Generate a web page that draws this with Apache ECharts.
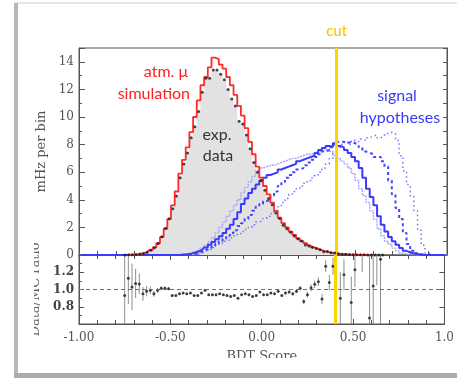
<!DOCTYPE html>
<html><head><meta charset="utf-8">
<script src="https://cdn.jsdelivr.net/npm/echarts@6/dist/echarts.min.js"></script>
<style>html,body{margin:0;padding:0;background:#fff;}#c{width:457px;height:378px;}</style>
</head><body><div id="c"></div>
<script>
// ---- binning ----
const binWidth = 0.02;
const firstBinCenter = -0.99;
const nBins = 100;

// ---- axis tick labels ----
const xTickLabels = ['-1.00', '-0.50', '0.00', '0.50', '1.0'];
const ratioTickLabels = ['0.6', '0.8', '1.0', '1.2', '1.4'];

// ---- atm. mu simulation (MC), mHz per bin, bins starting at center -0.73 ----
const mcStart = -0.73;
const mcValues = [0.01,0.02,0.03,0.06,0.12,0.2,0.35,0.55,0.85,1.3,1.9,2.6,3.6,4.6,5.9,6.9,7.8,8.9,10.0,11.2,12.3,12.9,13.6,14.3,14.2,13.8,13.5,12.9,12.3,11.6,10.8,10.1,9.2,8.2,7.3,6.4,5.6,5.0,4.4,3.8,3.2,2.7,2.3,2.0,1.7,1.45,1.2,1.0,0.85,0.7,0.55,0.45,0.35,0.27,0.2,0.15,0.11,0.08,0.06,0.04,0.03,0.02,0.015,0.01,0.01,0.005,0.005];

// ---- experimental data, bins starting at center -0.75 ----
const expStart = -0.75;
const expValues = [0.005,0.011,0.02,0.03,0.065,0.115,0.2,0.35,0.52,0.84,1.32,1.93,2.63,3.35,4.28,5.6,6.6,7.4,8.5,9.3,10.4,11.8,12.8,12.8,13.4,13.4,13.1,12.7,12.0,11.3,10.8,9.7,9.5,8.7,7.7,6.7,6.0,5.4,4.7,4.1,3.65,3.05,2.65,2.15,1.9,1.65,1.38,1.18,1.02,0.73,0.66,0.56,0.48,0.38,0.24,0.25,0.16,0.14,0.09,0.054,0.047,0.03,0.017,0.018,0.01,0.016,0.005,0.003,0.005,0.004,0.004];

// ---- Data/MC ratio and its error, bins starting at center -0.75 ----
const ratioStart = -0.75;
const ratioValues = [0.93,1.13,1.03,1.07,1.065,0.95,0.98,0.99,0.95,0.99,1.015,1.015,1.01,
  0.93,0.93,0.95,0.96,0.95,0.96,0.93,0.93,0.96,0.99,0.94,0.94,0.94,0.95,0.94,0.93,0.92,0.93,0.90,0.94,0.95,0.94,0.92,0.93,0.97,
  0.94,0.94,0.96,0.95,0.98,0.93,0.96,0.97,0.95,0.98,
  1.015,0.86,0.94,1.02,1.06,1.09,0.89,1.27,1.08,1.27,
  null,0.90,1.17,null,0.85,1.23,null,1.6,null,0.67,1.04,1.5,1.35];
const ratioErrors = [0.6,0.3,0.27,0.17,0.12,0.08,0.06,0.045,0.035,0.03,0.025,0.02,0.018,
  0.015,0.013,0.012,0.011,0.01,0.01,0.01,0.01,0.01,0.01,0.01,0.01,0.01,0.01,0.01,0.01,0.01,0.01,0.01,0.01,0.01,0.01,0.01,0.01,0.01,
  0.01,0.011,0.012,0.013,0.014,0.015,0.017,0.019,0.02,0.022,
  0.025,0.03,0.035,0.04,0.045,0.05,0.06,0.07,0.09,0.1,
  0,0.3,0.18,0,0.3,0.2,0,0.4,0,0.8,0.6,0.45,0.9];

// ---- signal hypotheses ----
const sigSolidStart = -0.43;
const sigSolid = [0.03,0.06,0.1,0.16,0.25,0.38,0.55,0.75,0.95,1.15,1.35,1.6,1.9,2.2,2.6,3.1,3.7,4.1,4.5,4.8,5.1,5.4,5.6,5.8,5.9,6.0,6.2,6.3,6.4,6.5,6.6,6.8,6.9,7.0,7.1,7.2,7.4,7.6,7.75,7.9,7.85,8.1,7.9,7.8,7.6,7.4,7.1,6.8,6.3,5.6,4.8,4.2,3.6,2.8,2.2,1.7,1.3,1.0,0.75,0.5,0.3,0.2,0.12,0.07,0.03];
const sigLightStart = -0.45;
const sigLight = [0.03,0.06,0.1,0.16,0.25,0.35,0.5,0.7,0.95,1.25,1.6,2.0,2.4,2.8,3.2,3.6,4.0,4.5,4.9,5.3,5.7,6.1,6.3,6.4,6.5,6.5,6.6,6.7,6.8,6.9,7.0,7.0,7.1,7.2,7.3,7.3,7.4,7.5,7.5,7.6,7.7,7.5,7.2,7.0,6.8,6.6,6.3,5.9,5.4,4.8,4.3,3.8,3.2,2.6,1.9,1.4,1.0,0.8,0.5,0.3,0.15,0.07,0.03];
const sigDashStart = -0.37;
const sigDash = [0.05,0.15,0.25,0.4,0.5,0.65,0.8,1.0,1.2,1.4,1.6,1.8,2.1,2.3,2.6,2.9,3.2,3.5,3.7,3.9,4.0,4.3,4.6,5.0,5.3,5.6,5.8,6.0,6.2,6.3,6.5,6.7,6.9,7.1,7.3,7.5,7.6,7.8,8.0,8.2,8.2,8.1,8.2,8.1,8.0,7.8,7.5,7.4,7.3,7.1,7.1,6.8,6.4,5.4,4.4,3.4,2.6,1.6,0.8,0.3,0.12,0.05];
const sigDotStart = -0.35;
const sigDot = [0.05,0.15,0.25,0.4,0.55,0.7,0.85,1.0,1.1,1.25,1.4,1.55,1.7,1.85,2.0,2.2,2.4,2.5,2.65,2.8,3.0,3.2,3.5,3.8,4.1,4.4,4.6,4.8,5.0,5.2,5.4,5.6,5.8,6.0,6.3,6.6,7.0,7.4,7.7,8.0,8.2,8.0,8.3,8.2,8.4,8.3,8.5,8.6,8.7,8.5,8.6,8.8,8.9,8.8,8.3,7.2,6.1,5.1,4.3,3.2,1.8,0.7,0.15,0.03];

const cutValue = 0.40;

// ---- helpers (build point lists from the arrays) ----
function center(i) { return +(firstBinCenter + i * binWidth).toFixed(3); }
function fullHist(start, vals) {
  const off = Math.round((start - firstBinCenter) / binWidth);
  const out = [];
  for (let i = 0; i < nBins; i++) {
    const j = i - off;
    out.push([center(i), (j >= 0 && j < vals.length && vals[j] != null) ? vals[j] : 0]);
  }
  return out;
}
function points(start, vals, errs) {
  const off = Math.round((start - firstBinCenter) / binWidth);
  const out = [];
  vals.forEach((v, j) => {
    if (v == null) return;
    const p = [center(off + j), v];
    if (errs) p.push(errs[j]);
    out.push(p);
  });
  return out;
}

const serif = 'DejaVu Serif';
const axisColor = '#555';
const chart = echarts.init(document.getElementById('c'), null, { renderer: 'canvas' });

function xAxisBase(grid, withLabels, pos) {
  return {
    type: 'value', gridIndex: grid, min: -1, max: 1, interval: 0.5, position: pos,
    axisLine: { show: true, onZero: false, lineStyle: { color: axisColor, width: 1 } },
    axisTick: { show: true, inside: true, length: 5, lineStyle: { color: axisColor } },
    minorTick: { show: true, splitNumber: 5, length: 4, lineStyle: { color: axisColor } },
    splitLine: { show: false },
    axisLabel: withLabels ? {
      show: true, margin: 8, fontFamily: serif, fontSize: 12, color: axisColor,
      formatter: v => xTickLabels[Math.round((v + 1) / 0.5)] || ''
    } : { show: false }
  };
}
function yAxisLine() { return { show: true, onZero: false, lineStyle: { color: axisColor } }; }

const option = {
  animation: false,
  backgroundColor: '#ffffff',
  grid: [
    { left: 79, top: 48, width: 368, height: 207, show: true, borderColor: axisColor, borderWidth: 1, backgroundColor: 'transparent' },
    { left: 79, top: 255, width: 368, height: 69, show: true, borderColor: axisColor, borderWidth: 1, backgroundColor: 'transparent' }
  ],
  xAxis: [
    xAxisBase(0, false, 'bottom'),
    Object.assign(xAxisBase(1, true, 'bottom'), {
      name: 'BDT Score', nameLocation: 'middle', nameGap: 26,
      nameTextStyle: { fontFamily: serif, fontSize: 13, color: axisColor }
    }),
    xAxisBase(1, false, 'top')
  ],
  yAxis: [
    {
      type: 'value', gridIndex: 0, min: 0, max: 15, interval: 2, position: 'left',
      axisLine: yAxisLine(),
      axisTick: { show: true, inside: true, length: 6, lineStyle: { color: axisColor } },
      minorTick: { show: true, splitNumber: 2, length: 3, lineStyle: { color: axisColor } },
      splitLine: { show: false },
      axisLabel: { showMaxLabel: false, margin: 5, fontFamily: serif, fontSize: 12, color: axisColor },
      name: 'mHz per bin', nameLocation: 'middle', nameGap: 30, nameRotate: 90,
      nameTextStyle: { fontFamily: serif, fontSize: 13, color: axisColor }
    },
    {
      type: 'value', gridIndex: 0, min: 0, max: 15, interval: 1, position: 'right',
      axisLine: yAxisLine(),
      axisTick: { show: true, inside: true, length: 4, lineStyle: { color: axisColor } },
      splitLine: { show: false }, axisLabel: { show: false }
    },
    {
      type: 'value', gridIndex: 1, min: 0.6, max: 1.4, interval: 0.2, position: 'left',
      axisLine: yAxisLine(),
      axisTick: { show: true, inside: true, length: 5, lineStyle: { color: axisColor } },
      minorTick: { show: true, splitNumber: 2, length: 3, lineStyle: { color: axisColor } },
      splitLine: { show: false },
      axisLabel: {
        showMinLabel: false, showMaxLabel: false, margin: 5,
        fontFamily: serif, fontSize: 12, fontWeight: 'bold', color: '#444',
        formatter: v => ratioTickLabels[Math.round((v - 0.6) / 0.2)] || ''
      },
      name: 'Data/MC ratio', nameLocation: 'middle', nameGap: 36, nameRotate: 90,
      nameTextStyle: { fontFamily: serif, fontSize: 13, color: '#666' }
    },
    {
      type: 'value', gridIndex: 1, min: 0.6, max: 1.4, interval: 0.2, position: 'right',
      axisLine: yAxisLine(),
      axisTick: { show: true, inside: true, length: 5, lineStyle: { color: axisColor } },
      splitLine: { show: false }, axisLabel: { show: false }
    }
  ],
  series: [
    {
      name: 'exp. data fill', type: 'line', xAxisIndex: 0, yAxisIndex: 0, step: 'middle',
      data: points(expStart, expValues), symbol: 'none', z: 1,
      lineStyle: { opacity: 0 }, areaStyle: { color: '#e2e2e2', opacity: 1 }
    },
    {
      name: 'signal light', type: 'line', xAxisIndex: 0, yAxisIndex: 0, step: 'middle',
      data: fullHist(sigLightStart, sigLight), symbol: 'none', z: 2,
      lineStyle: { color: '#a3a3ff', width: 1.4, type: [2, 1] }
    },
    {
      name: 'signal dotted', type: 'line', xAxisIndex: 0, yAxisIndex: 0, step: 'middle',
      data: fullHist(sigDotStart, sigDot), symbol: 'none', z: 2,
      lineStyle: { color: '#7272ff', width: 1.5, type: [1.5, 3] }
    },
    {
      name: 'signal dashed', type: 'line', xAxisIndex: 0, yAxisIndex: 0, step: 'middle',
      data: fullHist(sigDashStart, sigDash), symbol: 'none', z: 2,
      lineStyle: { color: '#4545ff', width: 2, type: [3, 3] }
    },
    {
      name: 'signal solid', type: 'line', xAxisIndex: 0, yAxisIndex: 0, step: 'middle',
      data: fullHist(sigSolidStart, sigSolid), symbol: 'none', z: 3,
      lineStyle: { color: '#3a3aff', width: 2 }
    },
    {
      name: 'atm. mu simulation', type: 'line', xAxisIndex: 0, yAxisIndex: 0, step: 'middle',
      data: points(mcStart, mcValues), symbol: 'none', z: 4,
      lineStyle: { color: '#ff2b2b', width: 1.8 }
    },
    {
      name: 'exp. data', type: 'scatter', xAxisIndex: 0, yAxisIndex: 0,
      data: points(expStart, expValues), symbol: 'circle', symbolSize: 3, z: 5,
      itemStyle: { color: '#1c1c1c' },
      markLine: {
        silent: true, symbol: ['none', 'none'], animation: false,
        lineStyle: { color: '#ffd200', width: 3, type: 'solid' },
        label: { show: true, position: 'end', formatter: 'cut', color: '#f2c200', fontFamily: 'Lato', fontSize: 15, distance: 9 },
        data: [{ xAxis: cutValue }]
      }
    },
    {
      name: 'ratio errors', type: 'custom', xAxisIndex: 1, yAxisIndex: 2, clip: true, z: 2,
      data: points(ratioStart, ratioValues, ratioErrors),
      renderItem: function (params, api) {
        const x = api.value(0), y = api.value(1), e = api.value(2);
        const a = api.coord([x, y + e]);
        const b = api.coord([x, y - e]);
        return { type: 'line', shape: { x1: a[0], y1: a[1], x2: b[0], y2: b[1] },
                 style: { stroke: '#8e8e8e', lineWidth: 1 } };
      }
    },
    {
      name: 'ratio', type: 'scatter', xAxisIndex: 1, yAxisIndex: 2,
      data: points(ratioStart, ratioValues), symbol: 'circle', symbolSize: 3, z: 4,
      itemStyle: { color: '#1c1c1c' },
      markLine: {
        silent: true, symbol: ['none', 'none'], animation: false,
        label: { show: false },
        data: [
          { yAxis: 1.0, lineStyle: { color: '#707070', width: 1, type: [4, 3] } },
          { xAxis: cutValue, lineStyle: { color: '#ffd200', width: 3, type: 'solid' } }
        ]
      }
    }
  ],
  graphic: [
    { type: 'rect', z: 100, shape: { x: 15, y: 2, width: 442, height: 2 }, style: { fill: '#e6e6e6' } },
    { type: 'rect', z: 100, shape: { x: 14, y: 3, width: 4, height: 372 }, style: { fill: '#b8b8b8' } },
    { type: 'rect', z: 100, shape: { x: 14, y: 373, width: 443, height: 5 }, style: { fill: '#acacac' } },
    { type: 'rect', z: 100, shape: { x: 180, y: 358, width: 180, height: 15 }, style: { fill: '#ffffff' } },
    { type: 'rect', z: 100, shape: { x: 24, y: 232, width: 10, height: 115 }, style: { fill: '#ffffff' } },
    { type: 'text', z: 100, x: 188, y: 72, style: { text: 'atm. μ', fill: '#ff2020', font: '16px Lato', align: 'right', verticalAlign: 'middle', textAlign: 'right', textVerticalAlign: 'middle' } },
    { type: 'text', z: 100, x: 190, y: 94, style: { text: 'simulation', fill: '#ff2020', font: '16px Lato', align: 'right', verticalAlign: 'middle', textAlign: 'right', textVerticalAlign: 'middle' } },
    { type: 'text', z: 100, x: 217, y: 135, style: { text: 'exp.', fill: '#333333', font: '16px Lato', align: 'center', verticalAlign: 'middle', textAlign: 'center', textVerticalAlign: 'middle' } },
    { type: 'text', z: 100, x: 218, y: 156, style: { text: 'data', fill: '#333333', font: '16px Lato', align: 'center', verticalAlign: 'middle', textAlign: 'center', textVerticalAlign: 'middle' } },
    { type: 'text', z: 100, x: 397, y: 96, style: { text: 'signal', fill: '#3a3aff', font: '16px Lato', align: 'center', verticalAlign: 'middle', textAlign: 'center', textVerticalAlign: 'middle' } },
    { type: 'text', z: 100, x: 400, y: 118, style: { text: 'hypotheses', fill: '#3a3aff', font: '16px Lato', align: 'center', verticalAlign: 'middle', textAlign: 'center', textVerticalAlign: 'middle' } }
  ]
};
chart.setOption(option);
</script>
</body></html>
